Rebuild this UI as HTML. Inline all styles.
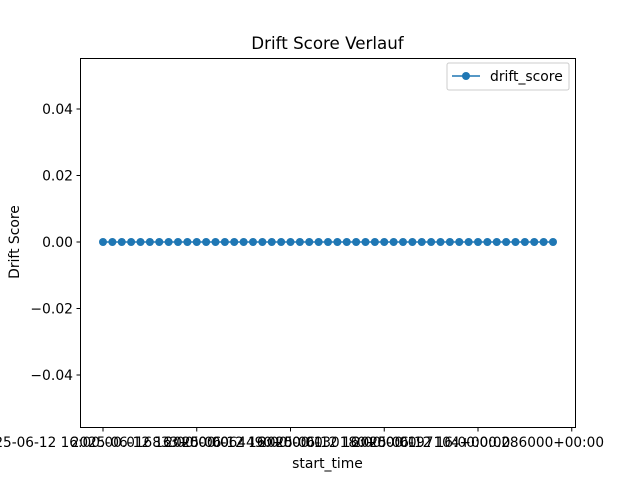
<!DOCTYPE html>
<html><head><meta charset="utf-8"><style>body{margin:0;background:#fff}svg{display:block;font-family:"DejaVu Sans","Liberation Sans",sans-serif}</style></head>
<body>
<svg id="chart" width="640" height="480" viewBox="0 0 640 480">
<rect width="640" height="480" fill="#fff"/>
<text x="327.5" y="49" font-size="16.7" text-anchor="middle">Drift Score Verlauf</text>
<g id="yticks"></g><g id="xticks"></g>
<polyline id="line" fill="none" stroke="#1f77b4" stroke-width="1.5"/>
<g id="points"></g>
<rect x="80.5" y="58.5" width="495" height="369" fill="none" stroke="#000" stroke-width="1"/>
<text x="327.5" y="468" font-size="13.9" text-anchor="middle">start_time</text>
<text transform="translate(19,242) rotate(-90)" font-size="13.9" text-anchor="middle">Drift Score</text>
<g>
<rect x="447" y="63" width="122" height="27" rx="2" fill="#fff" stroke="#ccc"/>
<line x1="452" y1="76" x2="480" y2="76" stroke="#1f77b4" stroke-width="1.5"/>
<circle cx="466" cy="76" r="4" fill="#1f77b4"/>
<text x="490" y="81" font-size="13.9">drift_score</text>
</g>
</svg>
<script>
const values=[0,0,0,0,0,0,0,0,0,0,0,0,0,0,0,0,0,0,0,0,0,0,0,0,0,0,0,0,0,0,0,0,0,0,0,0,0,0,0,0,0,0,0,0,0,0,0,0,0];
const yTicks=[-0.04,-0.02,0,0.02,0.04];
const xTickIdx=[0,10,20,30,40,50];
const xTickLabels=["2025-06-12 16:00:00.016833+00:00","2025-06-12 16:00:00.064490+00:00","2025-06-12 16:00:00.130180+00:00","2025-06-12 16:00:00.197104+00:00","2025-06-12 16:00:00.286000+00:00",""];
const NS="http://www.w3.org/2000/svg";
const n=values.length;
const x0=-0.05*(n-1), x1=(n-1)*1.05;
const X=i=>80.5+(i-x0)/(x1-x0)*495;
const Y=v=>242-v*3325;
const yg=document.getElementById('yticks'),xg=document.getElementById('xticks'),pg=document.getElementById('points');
function mk(t,a,p){const e=document.createElementNS(NS,t);for(const k in a)e.setAttribute(k,a[k]);p.appendChild(e);return e;}
yTicks.forEach(v=>{const y=Y(v);
 const l=mk('line',{x1:76.5,x2:80.5,y1:y,y2:y,stroke:'#000'},yg);
 
 
 const t=mk('text',{x:73,y:y+5,'font-size':13.9,'text-anchor':'end'},yg);
 
 
 t.textContent=v.toFixed(2).replace('-','\u2212');});
xTickIdx.forEach((i,k)=>{const x=X(i);
 const l=mk('line',{x1:x,x2:x,y1:427.5,y2:431.5,stroke:'#000'},xg);
 
 
 if(xTickLabels[k]){const t=mk('text',{x:x,y:447,'font-size':13.9,'text-anchor':'middle',textLength:252,lengthAdjust:'spacingAndGlyphs'},xg);
 
 
 t.textContent=xTickLabels[k];}});
document.getElementById('line').setAttribute('points',values.map((v,i)=>X(i)+','+Y(v)).join(' '));
values.forEach((v,i)=>{const c=mk('circle',{cx:X(i),cy:Y(v),r:4,fill:'#1f77b4'},pg);
 
 });
</script>
</body></html>
